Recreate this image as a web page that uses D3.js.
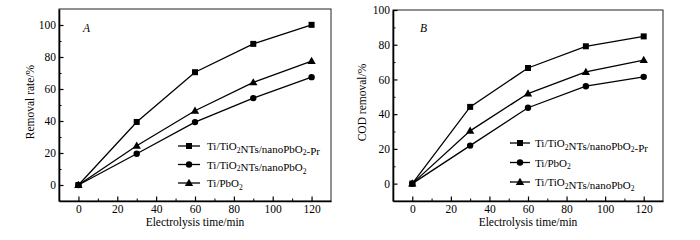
<!DOCTYPE html>
<html>
<head>
<meta charset="utf-8">
<script src="https://cdn.jsdelivr.net/npm/d3@7"></script>
<style>
  body { margin: 0; background: #fff; }
  svg { display: block; font-family: "Liberation Serif", "Times New Roman", serif; }
  .tick text { font-size: 11.5px; fill: #000; }
  .axis-label { font-size: 11.5px; fill: #000; }
  .legend text { font-size: 11px; fill: #000; }
</style>
</head>
<body>
<div id="chart"></div>
<script>
// shared x values (electrolysis time, min)
const times = [0, 30, 60, 90, 120];
const xTicks = [0, 20, 40, 60, 80, 100, 120];

// panel A: removal rate
const seriesA = ["Ti/TiO2NTs/nanoPbO2-Pr", "Ti/TiO2NTs/nanoPbO2", "Ti/PbO2"];
const markersA = ["square", "circle", "triangle"];
const valuesA = [
  [0, 39.4, 70.5, 88.2, 100.1],
  [0, 19.5, 39.3, 54.3, 67.4],
  [0, 24.5, 46.4, 64.1, 77.4]
];
const yTicksA = [0, 20, 40, 60, 80, 100];

// panel B: COD removal
const seriesB = ["Ti/TiO2NTs/nanoPbO2-Pr", "Ti/PbO2", "Ti/TiO2NTs/nanoPbO2"];
const markersB = ["square", "circle", "triangle"];
const valuesB = [
  [0, 44.2, 66.6, 79.1, 84.8],
  [0, 21.9, 43.7, 56.1, 61.5],
  [0, 30.4, 51.9, 64.3, 71.1]
];
const yTicksB = [0, 20, 40, 60, 80, 100];

const svg = d3.select("#chart").append("svg")
  .attr("width", 700)
  .attr("height", 240);

// draws text with the "2" after "O" as subscript
function labelText(sel, str) {
  const parts = str.split(/(?<=O)2/);
  parts.forEach((p, i) => {
    sel.append("tspan").text(p);
    if (i < parts.length - 1) {
      sel.append("tspan").attr("font-size", "7.5px").attr("dy", 2.5).text("2");
      sel.append("tspan").attr("dy", -2.5).text("");
    }
  });
}

function drawMarker(g, type, x, y) {
  if (type === "square") {
    g.append("rect").attr("x", x - 3).attr("y", y - 3).attr("width", 6).attr("height", 6).attr("fill", "#000");
  } else if (type === "circle") {
    g.append("circle").attr("cx", x).attr("cy", y).attr("r", 3.2).attr("fill", "#000");
  } else {
    g.append("path").attr("d", d3.symbol(d3.symbolTriangle, 30)()).attr("transform", `translate(${x},${y + 0.5})`).attr("fill", "#000");
  }
}

function panel(cfg) {
  const { left, right, top, bottom, yMax, yTicks, names, markers, values, yLabel, letter, legend } = cfg;
  const x = d3.scaleLinear().domain([-10, 130]).range([left, right]);
  const y = d3.scaleLinear().domain([-10, yMax]).range([bottom, top]);
  const g = svg.append("g");

  // frame
  g.append("rect")
    .attr("x", left).attr("y", top)
    .attr("width", right - left).attr("height", bottom - top)
    .attr("fill", "none").attr("stroke", "#222").attr("stroke-width", 1);

  const minorX = d3.range(-10, 131, 10).filter(v => v % 20 !== 0 && v > -10 && v < 130);
  const minorY = d3.range(-10, yMax + 1, 10).filter(v => v % 20 !== 0 && v > -10 && v < yMax);

  // minor ticks
  g.append("g")
    .attr("transform", `translate(0,${bottom})`)
    .call(d3.axisBottom(x).tickValues(minorX).tickSize(-2.5).tickFormat(""))
    .call(a => a.select(".domain").remove());
  g.append("g")
    .attr("transform", `translate(${left},0)`)
    .call(d3.axisLeft(y).tickValues(minorY).tickSize(-2.5).tickFormat(""))
    .call(a => a.select(".domain").remove());

  // major axes, ticks inward
  const xAxis = g.append("g")
    .attr("transform", `translate(0,${bottom})`)
    .call(d3.axisBottom(x).tickValues(xTicks).tickSizeInner(-4.5).tickSizeOuter(0).tickPadding(4));
  const yAxis = g.append("g")
    .attr("transform", `translate(${left},0)`)
    .call(d3.axisLeft(y).tickValues(yTicks).tickSizeInner(-4.5).tickSizeOuter(0).tickPadding(3));
  [xAxis, yAxis].forEach(a => {
    a.select(".domain").attr("stroke-width", 1.6);
    a.selectAll(".tick line").attr("stroke-width", 1.2);
    a.selectAll(".tick text").attr("font-family", "Liberation Serif");
  });
  yAxis.selectAll(".tick text").attr("x", -3);

  g.append("text").attr("class", "axis-label")
    .attr("x", (left + right) / 2).attr("y", 226)
    .attr("text-anchor", "middle")
    .text("Electrolysis time/min");

  g.append("text").attr("class", "axis-label")
    .attr("transform", `translate(${cfg.yLabelX},${(top + bottom) / 2 - 3}) rotate(-90)`)
    .attr("text-anchor", "middle")
    .text(yLabel);

  g.append("text")
    .attr("x", cfg.letterX).attr("y", 32)
    .attr("font-style", "italic").attr("font-size", "11.5px")
    .text(letter);

  const line = d3.line().x((d, i) => x(times[i])).y(d => y(d));
  values.forEach((vals, si) => {
    g.append("path")
      .attr("d", line(vals))
      .attr("fill", "none").attr("stroke", "#000").attr("stroke-width", 1.3);
    vals.forEach((v, i) => drawMarker(g, markers[si], x(times[i]), y(v)));
  });

  // legend
  const lg = g.append("g").attr("class", "legend");
  names.forEach((name, i) => {
    const ly = legend.y0 + i * legend.dy;
    lg.append("line")
      .attr("x1", legend.x1).attr("x2", legend.x2)
      .attr("y1", ly).attr("y2", ly)
      .attr("stroke", "#000").attr("stroke-width", 1.3);
    drawMarker(lg, markers[i], (legend.x1 + legend.x2) / 2, ly);
    const t = lg.append("text").attr("x", legend.tx).attr("y", ly + 4);
    labelText(t, name);
  });
}

panel({
  left: 59, right: 331, top: 9, bottom: 201, yMax: 110,
  yTicks: yTicksA, names: seriesA, markers: markersA, values: valuesA,
  yLabel: "Removal rate/%", yLabelX: 34, letter: "A", letterX: 83,
  legend: { x1: 178, x2: 200, tx: 207, y0: 146, dy: 18.5 }
});

panel({
  left: 393, right: 663, top: 10, bottom: 201, yMax: 100,
  yTicks: yTicksB, names: seriesB, markers: markersB, values: valuesB,
  yLabel: "COD removal/%", yLabelX: 366, letter: "B", letterX: 420,
  legend: { x1: 510, x2: 530, tx: 535, y0: 143, dy: 19.5 }
});
</script>
</body>
</html>
